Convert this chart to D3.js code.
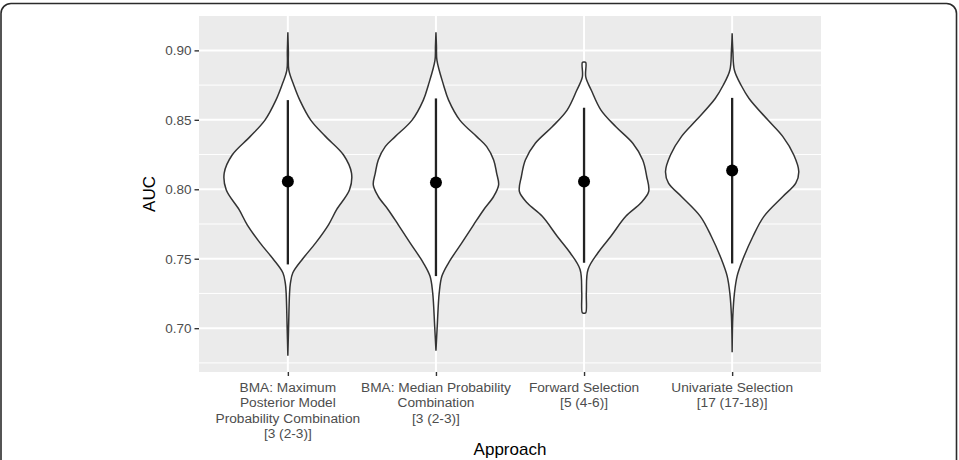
<!DOCTYPE html>
<html>
<head>
<meta charset="utf-8">
<script src="https://d3js.org/d3.v7.min.js"></script>
<style>
  body { margin: 0; background: #fff; }
  svg text { font-family: "Liberation Sans", Arial, Helvetica, sans-serif; }
</style>
</head>
<body>
<svg width="959" height="460"></svg>
<script>
// approaches shown on the x axis (each label split into lines)
const approaches = ['bma_mpm', 'bma_median', 'forward', 'univariate'];
const approachLabels = [
    ['BMA: Maximum', 'Posterior Model', 'Probability Combination', '[3 (2-3)]'],
    ['BMA: Median Probability', 'Combination', '[3 (2-3)]'],
    ['Forward Selection', '[5 (4-6)]'],
    ['Univariate Selection', '[17 (17-18)]']
];

// violin outlines: [AUC, density]
const densBmaMpm = [
    [0.9131, 0.0], [0.9000, 0.05], [0.8857, 0.10], [0.8749, 0.60], [0.8642, 1.20],
    [0.8498, 2.30], [0.8379, 3.80], [0.8247, 5.60], [0.8116, 6.40], [0.7996, 6.20],
    [0.7853, 4.90], [0.7746, 4.10], [0.7614, 2.80], [0.7500, 1.50], [0.7399, 0.50],
    [0.7320, 0.25], [0.7251, 0.17], [0.7000, 0.07], [0.6801, 0.0]
];
const densBmaMedian = [
    [0.9131, 0.0], [0.9030, 0.05], [0.8928, 0.10], [0.8749, 0.77], [0.8642, 1.27],
    [0.8498, 2.40], [0.8379, 4.10], [0.8307, 5.10], [0.8211, 5.80], [0.8116, 6.10],
    [0.8032, 6.30], [0.7948, 5.80], [0.7853, 4.80], [0.7746, 3.80], [0.7614, 2.60],
    [0.7471, 1.27], [0.7375, 0.60], [0.7256, 0.33], [0.7016, 0.13], [0.6837, 0.0]
];
const densForward = [
    [0.8916, 0.0], [0.8913, 0.17], [0.8809, 0.17], [0.8713, 0.73], [0.8570, 1.70],
    [0.8450, 3.20], [0.8331, 4.90], [0.8211, 5.90], [0.8092, 6.30], [0.7984, 6.50],
    [0.7901, 5.70], [0.7805, 4.20], [0.7662, 2.70], [0.7543, 1.40], [0.7423, 0.40],
    [0.7256, 0.23], [0.7111, 0.17], [0.7108, 0.0]
];
const densUnivariate = [
    [0.9124, 0.0], [0.9000, 0.07], [0.8857, 0.23], [0.8749, 0.90], [0.8654, 1.70],
    [0.8498, 3.60], [0.8379, 5.10], [0.8247, 6.20], [0.8128, 6.70], [0.8044, 6.40],
    [0.7948, 5.10], [0.7805, 3.20], [0.7662, 2.10], [0.7500, 1.10], [0.7375, 0.50],
    [0.7251, 0.23], [0.7088, 0.07], [0.6826, 0.0]
];
const densities = [densBmaMpm, densBmaMedian, densForward, densUnivariate];

// point ranges
const aucMid = [0.8056, 0.8049, 0.8056, 0.8135];
const aucLow = [0.7459, 0.7375, 0.7471, 0.7466];
const aucHigh = [0.8642, 0.8654, 0.8587, 0.8658];

const yTicks = [0.70, 0.75, 0.80, 0.85, 0.90];
const yMinor = [0.675, 0.725, 0.775, 0.825, 0.875, 0.925];

const svg = d3.select('svg');
const margin = {top: 16, right: 138, bottom: 88, left: 199};
const width = +svg.attr('width');
const height = +svg.attr('height');
const innerW = width - margin.left - margin.right;
const innerH = height - margin.top - margin.bottom;

// outer frame round the figure
svg.append('rect')
    .attr('x', 1).attr('y', 3.5)
    .attr('width', 955.5).attr('height', 480)
    .attr('rx', 10)
    .attr('fill', 'none')
    .attr('stroke', '#2b2b2b')
    .attr('stroke-width', 1.6);

const g = svg.append('g').attr('transform', `translate(${margin.left},${margin.top})`);

const x = d3.scalePoint().domain(approaches).range([0, innerW]).padding(0.6);

// y range like ggplot: data extent plus 5%
const allY = densities.flat().map(d => d[0]);
const [yLo, yHi] = d3.extent(allY);
const pad = (yHi - yLo) * 0.05;
const y = d3.scaleLinear().domain([yLo - pad, yHi + pad]).range([innerH, 0]);

const maxDens = d3.max(densities.flat(), d => d[1]);
const w = d3.scaleLinear().domain([0, maxDens]).range([0, x.step() * 0.45]);

// panel
g.append('rect')
    .attr('width', innerW).attr('height', innerH)
    .attr('fill', '#ebebeb');

g.selectAll('.minor').data(yMinor.filter(v => y(v) >= 0 && y(v) <= innerH))
    .enter().append('line')
    .attr('x1', 0).attr('x2', innerW)
    .attr('y1', d => y(d)).attr('y2', d => y(d))
    .attr('stroke', '#fff').attr('stroke-width', 1);

g.selectAll('.major').data(yTicks)
    .enter().append('line')
    .attr('x1', 0).attr('x2', innerW)
    .attr('y1', d => y(d)).attr('y2', d => y(d))
    .attr('stroke', '#fff').attr('stroke-width', 2);

g.selectAll('.vgrid').data(approaches)
    .enter().append('line')
    .attr('x1', d => x(d)).attr('x2', d => x(d))
    .attr('y1', 0).attr('y2', innerH)
    .attr('stroke', '#fff').attr('stroke-width', 2);

// violins
approaches.forEach((a, i) => {
    const cx = x(a);
    const area = d3.area()
        .y(d => y(d[0]))
        .x0(d => cx - w(d[1]))
        .x1(d => cx + w(d[1]))
        .curve(d3.curveCatmullRom.alpha(0.5));
    g.append('path')
        .attr('d', area(densities[i]))
        .attr('fill', '#fff')
        .attr('stroke', '#333')
        .attr('stroke-width', 1.5);
});

// point ranges
g.selectAll('.range').data(approaches)
    .enter().append('line')
    .attr('x1', d => x(d)).attr('x2', d => x(d))
    .attr('y1', (d, i) => y(aucLow[i])).attr('y2', (d, i) => y(aucHigh[i]))
    .attr('stroke', '#222').attr('stroke-width', 2.3);

g.selectAll('.pt').data(approaches)
    .enter().append('circle')
    .attr('cx', d => x(d))
    .attr('cy', (d, i) => y(aucMid[i]))
    .attr('r', 6)
    .attr('fill', '#000');

// y axis
const yAxis = g.append('g').call(d3.axisLeft(y).tickValues(yTicks).tickFormat(d3.format('.2f')).tickSize(4.5).tickPadding(3));
yAxis.select('.domain').remove();
yAxis.selectAll('line').attr('stroke', '#333').attr('stroke-width', 1.4);
yAxis.selectAll('text').attr('fill', '#4d4d4d').attr('font-size', 13.5);

// x axis
const xAxis = g.append('g').attr('transform', `translate(0,${innerH})`)
    .call(d3.axisBottom(x).tickSize(4).tickFormat(''));
xAxis.select('.domain').remove();
xAxis.selectAll('line').attr('stroke', '#333').attr('stroke-width', 1.4);

approaches.forEach((a, i) => {
    const t = g.append('text')
        .attr('x', x(a))
        .attr('y', innerH + 20)
        .attr('text-anchor', 'middle')
        .attr('fill', '#4d4d4d')
        .attr('font-size', 13.7);
    approachLabels[i].forEach((line, j) => {
        t.append('tspan').attr('x', x(a)).attr('dy', j === 0 ? 0 : 15.3).text(line);
    });
});

// axis titles
svg.append('text')
    .attr('x', margin.left + innerW / 2)
    .attr('y', 455)
    .attr('text-anchor', 'middle')
    .attr('font-size', 17)
    .attr('fill', '#000')
    .text('Approach');

svg.append('text')
    .attr('transform', `translate(155,${margin.top + innerH / 2}) rotate(-90)`)
    .attr('text-anchor', 'middle')
    .attr('font-size', 17)
    .attr('fill', '#000')
    .text('AUC');
</script>
</body>
</html>
